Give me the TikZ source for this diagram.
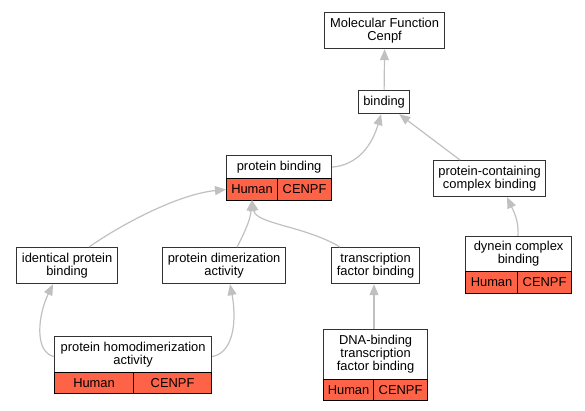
\documentclass[tikz,border=0pt]{standalone}
\usepackage{fontspec}
\setmainfont{Liberation Sans}
\usetikzlibrary{arrows.meta}
\definecolor{edgec}{HTML}{C0C0C0}
\definecolor{boxc}{HTML}{333333}
\definecolor{redc}{HTML}{FF6347}
\begin{document}
\begin{tikzpicture}[x=1pt,y=-1pt,
  font=\fontsize{12.9}{13}\selectfont,
  gobox/.style={draw=boxc, line width=1.2pt, fill=white, anchor=north west, inner sep=0pt, align=center},
  cell/.style={draw=black, line width=1.1pt, fill=redc, anchor=north west, inner sep=0pt, align=center},
  edge/.style={draw=edgec, line width=1.2pt, -{Triangle[length=11pt,width=9pt]}}]
\useasboundingbox (0,0) rectangle (585,411);
\coordinate (pbin) at (252,200);
% nodes
\node[gobox, minimum width=120, minimum height=36] (mf) at (324,12) {Molecular Function\\Cenpf};
\node[gobox, minimum width=51, minimum height=23] (bind) at (358,90) {binding};
\node[gobox, minimum width=105, minimum height=23] (pb) at (226,155) {protein binding};
\node[cell, minimum width=51, minimum height=22] (pbh) at (226,178) {Human};
\node[cell, minimum width=54, minimum height=22] (pbc) at (277,178) {CENPF};
\node[gobox, minimum width=112, minimum height=36] (pcc) at (433,160) {protein-containing\\complex binding};
\node[gobox, minimum width=101, minimum height=36] (ipb) at (16,247) {identical protein\\binding};
\node[gobox, minimum width=123, minimum height=36] (pda) at (162,247) {protein dimerization\\activity};
\node[gobox, minimum width=88, minimum height=36] (tfb) at (331,247) {transcription\\factor binding};
\node[gobox, minimum width=106, minimum height=35] (dcb) at (465,236) {dynein complex\\binding};
\node[cell, minimum width=52, minimum height=22] (dcbh) at (465,271) {Human};
\node[cell, minimum width=54, minimum height=22] (dcbc) at (517,271) {CENPF};
\node[gobox, minimum width=157, minimum height=36] (phd) at (54,336) {protein homodimerization\\activity};
\node[cell, minimum width=79, minimum height=21] (phdh) at (54,372) {Human};
\node[cell, minimum width=78, minimum height=21] (phdc) at (133,372) {CENPF};
\node[gobox, minimum width=104, minimum height=50] (dna) at (323,329) {DNA-binding\\transcription\\factor binding};
\node[cell, minimum width=50, minimum height=21] (dnah) at (323,379) {Human};
\node[cell, minimum width=54, minimum height=21] (dnac) at (373,379) {CENPF};
% connectors
\draw[edge] (bind.north) -- (mf.south);
\draw[edge] (pb.east) .. controls (358,165) and (372,145) .. ([xshift=-3pt]bind.south);
\draw[edge] ([xshift=27pt]pcc.north west) -- ([xshift=-11pt]bind.south east);
\draw[edge] ([xshift=73pt]ipb.north west) .. controls (125,222) and (180,194) .. (pbh.west);
\draw[edge] ([xshift=-49pt]pda.north east) .. controls (243,235) and (250,222) .. (pbin);
\draw[edge] ([xshift=9pt]tfb.north west) .. controls (305,226) and (256,224) .. (pbin);
\draw[edge] ([yshift=-2pt]phd.west) .. controls (34,352) and (38,315) .. ([xshift=37pt]ipb.south west);
\draw[edge] ([yshift=-2pt]phd.east) .. controls (236,352) and (236,315) .. ([xshift=68pt]pda.south west);
\draw[edge] ([xshift=51pt]dna.north west) -- ([xshift=43pt]tfb.south west);
\draw[edge] ([xshift=53pt]dcb.north west) .. controls (519,220) and (513,210) .. ([xshift=74pt]pcc.south west);
\end{tikzpicture}
\end{document}
